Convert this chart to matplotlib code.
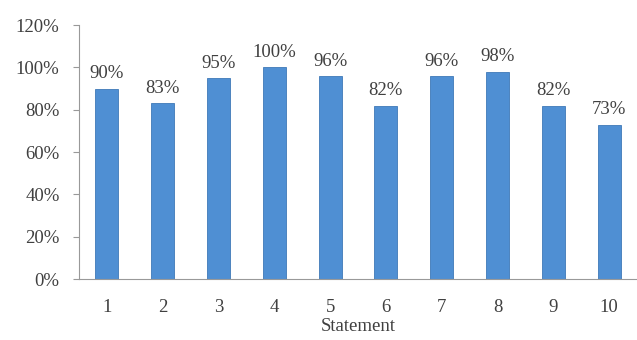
import numpy as np
import matplotlib.pyplot as plt
from matplotlib.ticker import PercentFormatter

statements = ['1', '2', '3', '4', '5', '6', '7', '8', '9', '10']
values = [90, 83, 95, 100, 96, 82, 96, 98, 82, 73]

plt.rcParams['font.family'] = ['Liberation Serif', 'DejaVu Serif']

fig = plt.figure(figsize=(6.37, 3.4), dpi=100)
ax = fig.add_axes([0.124, 0.179, 0.876, 0.747])

x = np.arange(len(values))
bars = ax.bar(x, values, width=0.41, color='#4f8fd3', edgecolor='#3f79b8', linewidth=0.6)
for b, v in zip(bars, values):
	ax.text(b.get_x() + b.get_width() / 2, v + 3, '%d%%' % v, ha='center', va='bottom',
	        fontsize=13.5, color='#404040')

ax.set_xlim(-0.5, len(values) - 0.5)
ax.set_ylim(0, 120)
ax.set_yticks(range(0, 121, 20))
ax.yaxis.set_major_formatter(PercentFormatter(decimals=0))
ax.set_xticks(x)
ax.set_xticklabels(statements)
ax.set_xlabel('Statement', fontsize=13.5, color='#404040', labelpad=2)

for s in ['top', 'right']:
	ax.spines[s].set_visible(False)
ax.spines['left'].set_color('#999999')
ax.spines['bottom'].set_color('#999999')
ax.tick_params(axis='y', colors='#999999', labelcolor='#404040', labelsize=13.5, length=4, pad=10)
ax.tick_params(axis='x', length=0, labelcolor='#404040', labelsize=13.5, pad=14)

fig.savefig('out.png', dpi=100)
